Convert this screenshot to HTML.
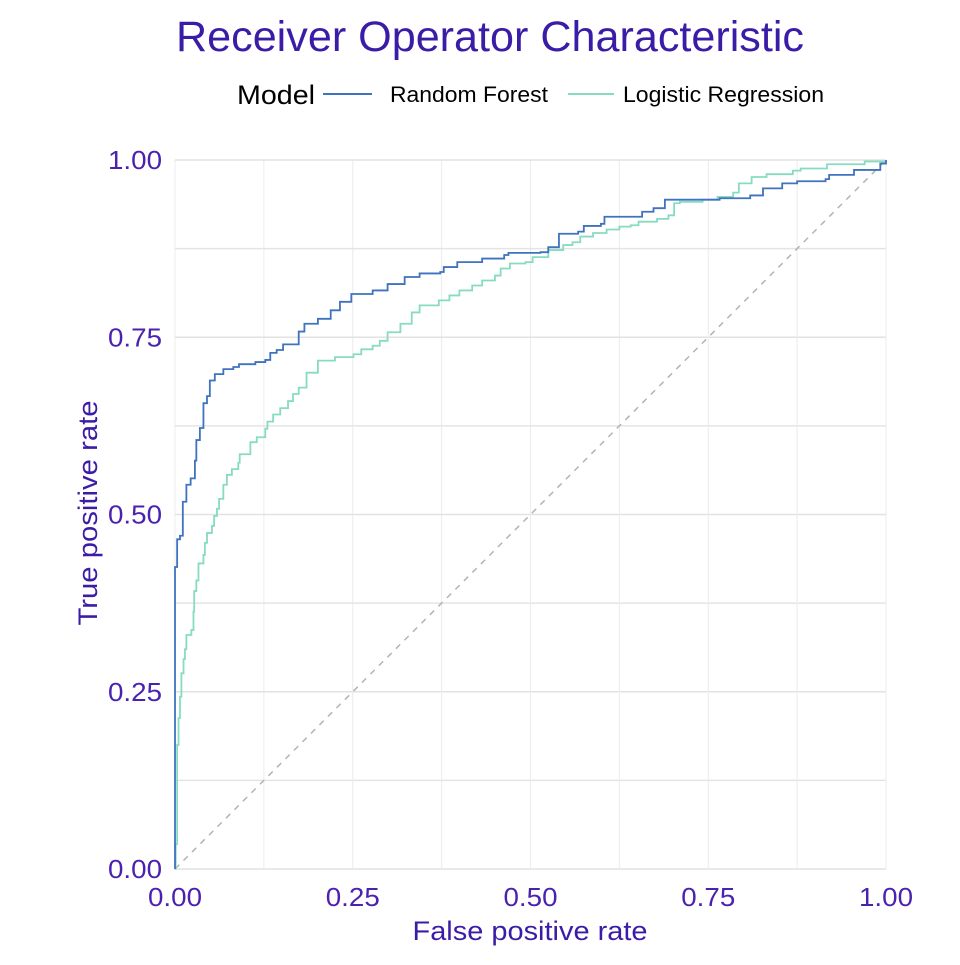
<!DOCTYPE html>
<html><head><meta charset="utf-8"><style>
body{margin:0;background:#fff;}
svg text{font-family:"Liberation Sans",Arial,sans-serif;}
</style></head><body>
<svg id="chart" width="960" height="960" viewBox="0 0 960 960" xmlns="http://www.w3.org/2000/svg">
<text x="490" y="51" text-anchor="middle" font-size="43" textLength="628" lengthAdjust="spacingAndGlyphs" fill="#3b1ca6">Receiver Operator Characteristic</text>
<g>
<text x="237" y="104" font-size="27" textLength="78" lengthAdjust="spacingAndGlyphs" fill="#000">Model</text>
<line x1="323" y1="94" x2="372" y2="94" stroke="#3f72bf" stroke-width="2"/>
<text x="390" y="102" font-size="22" textLength="158" lengthAdjust="spacingAndGlyphs" fill="#000">Random Forest</text>
<line x1="568" y1="94" x2="614" y2="94" stroke="#87dbc0" stroke-width="2"/>
<text x="623" y="102" font-size="22" textLength="201" lengthAdjust="spacingAndGlyphs" fill="#000">Logistic Regression</text>
</g>
<g id="grid"></g>
<g id="axes"></g>
<g id="series"></g>
<text x="530" y="940" text-anchor="middle" font-size="27" textLength="235" lengthAdjust="spacingAndGlyphs" fill="#3b1ca6">False positive rate</text>
<text x="97" y="513" text-anchor="middle" font-size="27" textLength="225" lengthAdjust="spacingAndGlyphs" fill="#3b1ca6" transform="rotate(-90 97 513)">True positive rate</text>
</svg>
<script>
const xTicks=[0,0.25,0.5,0.75,1];
const yTicks=[0,0.25,0.5,0.75,1];
const tickLabels=["0.00","0.25","0.50","0.75","1.00"];
const rfFpr=[0,0,0.001,0.003,0.007,0.011,0.016,0.022,0.028,0.030,0.035,0.040,0.045,0.049,0.056,0.068,0.082,0.090,0.113,0.127,0.134,0.143,0.152,0.174,0.182,0.201,0.219,0.232,0.248,0.278,0.299,0.323,0.344,0.373,0.378,0.397,0.432,0.463,0.469,0.514,0.525,0.540,0.567,0.575,0.599,0.604,0.641,0.657,0.673,0.689,0.766,0.809,0.827,0.854,0.875,0.915,0.920,0.955,0.992,1];
const rfTpr=[0,0.426,0.426,0.465,0.47,0.518,0.542,0.551,0.576,0.605,0.622,0.657,0.667,0.689,0.698,0.705,0.708,0.712,0.715,0.718,0.728,0.732,0.740,0.758,0.769,0.776,0.788,0.800,0.811,0.816,0.825,0.835,0.840,0.842,0.849,0.856,0.861,0.866,0.869,0.870,0.877,0.896,0.899,0.907,0.910,0.920,0.920,0.927,0.932,0.944,0.946,0.950,0.960,0.967,0.970,0.973,0.979,0.986,0.995,1];
const lrFpr=[0,0.001,0.003,0.005,0.007,0.009,0.012,0.014,0.016,0.023,0.026,0.027,0.030,0.033,0.040,0.042,0.045,0.052,0.055,0.059,0.062,0.068,0.073,0.080,0.089,0.091,0.106,0.115,0.127,0.130,0.138,0.148,0.159,0.166,0.174,0.185,0.201,0.225,0.251,0.262,0.278,0.288,0.299,0.317,0.333,0.344,0.371,0.386,0.400,0.418,0.432,0.450,0.458,0.471,0.493,0.503,0.525,0.546,0.559,0.570,0.588,0.607,0.625,0.641,0.652,0.678,0.694,0.702,0.710,0.742,0.763,0.785,0.793,0.811,0.832,0.869,0.880,0.917,0.970,1];
const lrTpr=[0,0.035,0.175,0.213,0.243,0.276,0.296,0.310,0.330,0.337,0.363,0.392,0.407,0.431,0.443,0.460,0.474,0.484,0.498,0.508,0.522,0.542,0.556,0.564,0.573,0.585,0.602,0.609,0.621,0.631,0.641,0.650,0.660,0.670,0.679,0.700,0.717,0.722,0.726,0.733,0.738,0.745,0.757,0.769,0.785,0.795,0.802,0.809,0.816,0.823,0.830,0.837,0.847,0.854,0.856,0.863,0.873,0.880,0.884,0.892,0.897,0.902,0.906,0.908,0.913,0.917,0.922,0.939,0.941,0.944,0.948,0.954,0.967,0.976,0.980,0.985,0.988,0.994,0.998,1];
const NS="http://www.w3.org/2000/svg";
const X0=175,X1=886,Y0=869,Y1=160;
function sx(v){return X0+(X1-X0)*v;}
function sy(v){return Y0-(Y0-Y1)*v;}
function mk(tag,attrs,parent){const e=document.createElementNS(NS,tag);for(const k in attrs)e.setAttribute(k,attrs[k]);parent.appendChild(e);return e;}
const grid=document.getElementById('grid'),axes=document.getElementById('axes'),series=document.getElementById('series');
for(let i=0;i<=8;i++){const v=i/8;
 const h=mk('line',{x1:X0,x2:X1,y1:sy(v),y2:sy(v),stroke:i%2?'#e4e4e4':'#e2e2e2','stroke-width':i%2?1.4:1.6},grid);
 
 
 const vl=mk('line',{x1:sx(v),x2:sx(v),y1:Y0,y2:Y1,stroke:'#ececec','stroke-width':1},grid);
 
 
}
xTicks.forEach((t,i)=>{const e=mk('text',{x:sx(t),y:906,'text-anchor':'middle','font-size':26,textLength:54,lengthAdjust:'spacingAndGlyphs',fill:'#4b22b0'},axes);e.textContent=tickLabels[i];
 
 });
yTicks.forEach((t,i)=>{const e=mk('text',{x:162,y:sy(t)+9,'text-anchor':'end','font-size':26,textLength:54,lengthAdjust:'spacingAndGlyphs',fill:'#4b22b0'},axes);e.textContent=tickLabels[i];
 
 });
const diag=mk('line',{x1:sx(0),y1:sy(0),x2:sx(1),y2:sy(1),stroke:'#b3b3b3','stroke-width':1.5,'stroke-dasharray':'6,6'},series);


function pathFor(xs,ys){let d='M'+sx(xs[0])+','+sy(ys[0]);for(let i=1;i<xs.length;i++){d+='L'+sx(xs[i])+','+sy(ys[i-1])+'L'+sx(xs[i])+','+sy(ys[i]);}return d;}
const lr=mk('path',{d:pathFor(lrFpr,lrTpr),fill:'none',stroke:'#87dbc0','stroke-width':1.8},series);


const rf=mk('path',{d:pathFor(rfFpr,rfTpr),fill:'none',stroke:'#3f72bf','stroke-width':1.8},series);


</script>
</body></html>
